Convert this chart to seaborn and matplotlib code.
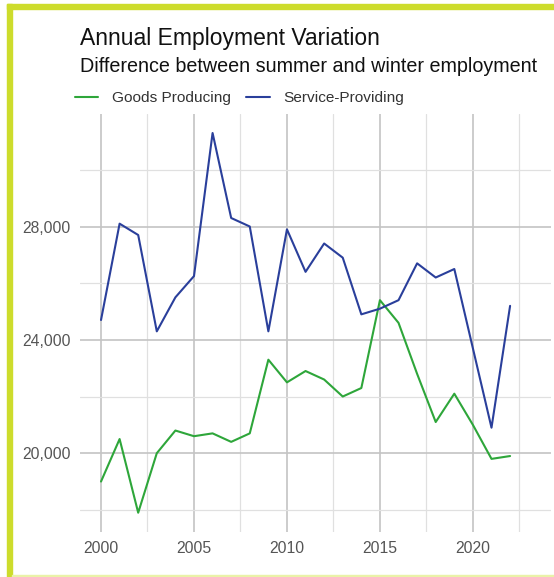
import numpy as np
import pandas as pd
import matplotlib
matplotlib.use("Agg")
import matplotlib.pyplot as plt
from matplotlib.ticker import MultipleLocator, AutoMinorLocator, FuncFormatter
from matplotlib.patches import Rectangle
import seaborn as sns

years = list(range(2000, 2023))
goods_producing = [19000, 20500, 17900, 20000, 20800, 20600, 20700, 20400, 20700,
                   23300, 22500, 22900, 22600, 22000, 22300, 25400, 24600, 22800,
                   21100, 22100, 21000, 19800, 19900]
service_providing = [24700, 28100, 27700, 24300, 25500, 26250, 31300, 28300, 28000,
                     24300, 27900, 26400, 27400, 26900, 24900, 25100, 25400, 26700,
                     26200, 26500, 23700, 20900, 25200]
series_names = ["Goods Producing", "Service-Providing"]
title = "Annual Employment Variation"
subtitle = "Difference between summer and winter employment"

df = pd.DataFrame({
    "year": years * 2,
    "value": goods_producing + service_providing,
    "series": [series_names[0]] * len(years) + [series_names[1]] * len(years),
})

sns.set_theme(style="white")
plt.rcParams["font.family"] = ["Liberation Sans", "DejaVu Sans"]

W, H = 554, 577
fig = plt.figure(figsize=(W / 100, H / 100), dpi=100)
fig.patch.set_facecolor("white")

# panel in pixel coords
px0, px1, py0, py1 = 80, 551, 114, 531.7
ax = fig.add_axes([px0 / W, 1 - py1 / H, (px1 - px0) / W, (py1 - py0) / H])
ax.set_facecolor("white")

palette = {series_names[0]: "#2ea63a", series_names[1]: "#2a3f9b"}
sns.lineplot(data=df, x="year", y="value", hue="series", palette=palette,
             linewidth=1.5, ax=ax, zorder=3)

ax.set_xlim(1998.87, 2024.2)
ax.set_ylim(17230, 31970)
ax.xaxis.set_major_locator(MultipleLocator(5))
ax.xaxis.set_minor_locator(AutoMinorLocator(2))
ax.yaxis.set_major_locator(MultipleLocator(4000))
ax.yaxis.set_minor_locator(AutoMinorLocator(2))
ax.yaxis.set_major_formatter(FuncFormatter(lambda v, p: f"{int(v):,}"))

ax.grid(which="major", color="#c4c4c4", linewidth=1.2, zorder=0)
ax.grid(which="minor", color="#e0e0e0", linewidth=0.9, zorder=0)
ax.set_axisbelow(True)
for s in ax.spines.values():
    s.set_visible(False)
ax.tick_params(which="both", length=0)
ax.tick_params(axis="y", pad=6.5, labelsize=11.3, labelcolor="#555555")
ax.tick_params(axis="x", pad=6.5, labelsize=11.3, labelcolor="#555555")
ax.set_xlabel("")
ax.set_ylabel("")

handles, labels = ax.get_legend_handles_labels()
ax.get_legend().remove()
fig.legend(handles, labels, loc="center left",
           bbox_to_anchor=(75 / W, 1 - 98 / H), bbox_transform=fig.transFigure,
           ncol=2, frameon=False, fontsize=11.1, handlelength=1.5,
           handletextpad=0.9, columnspacing=1.0, borderpad=0, borderaxespad=0,
           labelcolor="#333333")

fig.text(80 / W, 1 - 45 / H, title, fontsize=16.5, color="#111111",
         ha="left", va="baseline")
fig.text(80 / W, 1 - 72 / H, subtitle, fontsize=14.2, color="#111111",
         ha="left", va="baseline")

# border decoration
border = "#cddc2c"
fig.patches.append(Rectangle((7 / W, 0), 5 / W, 1 - 4 / H, transform=fig.transFigure,
                             color=border, zorder=10))
fig.patches.append(Rectangle((7 / W, 1 - 9 / H), 1, 5 / H, transform=fig.transFigure,
                             color=border, zorder=10))
fig.patches.append(Rectangle((12 / W, 0), 1, 2 / H, transform=fig.transFigure,
                             color="#eaf2a8", zorder=10))

fig.savefig("out.png", dpi=100, facecolor="white")
